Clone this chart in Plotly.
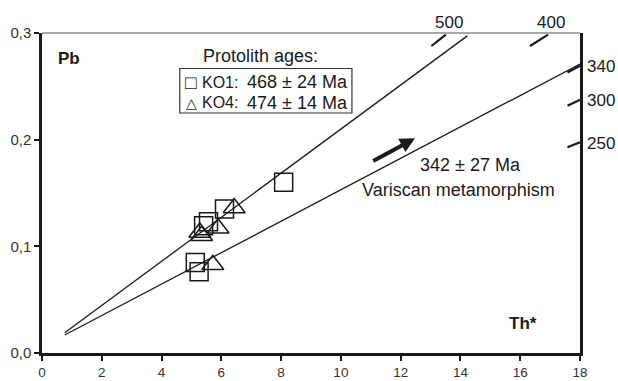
import numpy as np
import plotly.graph_objects as go

# ---------------- data ----------------
ko1_x = [8.085, 6.106, 5.571, 5.407, 5.129, 5.256]
ko1_y = [0.1601, 0.1350, 0.1231, 0.1192, 0.0848, 0.0762]

ko4_x = [6.43, 5.89, 5.28, 5.34, 5.715]
ko4_y = [0.136, 0.117, 0.113, 0.110, 0.0827]

iso_names = ["468 Ma isochron", "342 Ma isochron"]
iso_slope = [0.02066, 0.014736]
iso_intercept = [0.00331, 0.00566]
iso_x_start = [0.76, 0.76]
iso_x_end = [14.23, 18.0]

age_ticks_top = [500, 400]
age_ticks_right = [340, 300, 250]
LAMBDA_232 = 4.9475e-11   # 1/yr
K_SLOPE = 0.882

x_ticks = list(range(0, 19, 2))
x_labels = [str(v) for v in x_ticks]
y_ticks = [0.0, 0.1, 0.2, 0.3]
y_labels = ["0,0", "0,1", "0,2", "0,3"]

legend_rows = [("\u25a1", "KO1:", "468 \u00b1 24 Ma"), ("\u25b3", "KO4:", "474 \u00b1 14 Ma")]

FONT = "Liberation Sans, Arial, Helvetica, sans-serif"
INK = "#1a1a1a"


def age_slope(t_ma):
    return K_SLOPE * (np.exp(LAMBDA_232 * t_ma * 1e6) - 1.0)


fig = go.Figure()

# isochrons
for name, m, b, x0, x1 in zip(iso_names, iso_slope, iso_intercept, iso_x_start, iso_x_end):
    xs = [x0, x1]
    fig.add_trace(go.Scatter(x=xs, y=[b + m * v for v in xs], mode="lines",
                             line=dict(color=INK, width=1.3), name=name,
                             showlegend=False, hoverinfo="skip"))

# age reference ticks (segments of reference lines through the origin)
for t in age_ticks_top:
    m = age_slope(t)
    ys = [0.2878, 0.2985]
    fig.add_trace(go.Scatter(x=[v / m for v in ys], y=ys, mode="lines",
                             line=dict(color=INK, width=2.2), showlegend=False,
                             hoverinfo="skip"))
for t in age_ticks_right:
    m = age_slope(t)
    xs = [17.58, 18.0]
    fig.add_trace(go.Scatter(x=xs, y=[m * v for v in xs], mode="lines",
                             line=dict(color=INK, width=2.2), showlegend=False,
                             hoverinfo="skip"))

# data points
fig.add_trace(go.Scatter(x=ko1_x, y=ko1_y, mode="markers", name="KO1",
                         marker=dict(symbol="square-open", size=18, color=INK,
                                     line=dict(width=1.5, color=INK)),
                         showlegend=False))
fig.add_trace(go.Scatter(x=ko4_x, y=ko4_y, mode="markers", name="KO4",
                         marker=dict(symbol="triangle-up-open", size=19, color=INK,
                                     line=dict(width=1.5, color=INK)),
                         showlegend=False))

annotations = []
# age labels
for t in age_ticks_top:
    m = age_slope(t)
    annotations.append(dict(x=0.2985 / m, y=0.3, xref="x", yref="y", text=str(t),
                            showarrow=False, xanchor="center", yanchor="middle",
                            xshift=3, yshift=10.5, font=dict(size=17, color=INK, family=FONT)))
for t in age_ticks_right:
    m = age_slope(t)
    annotations.append(dict(x=18.0, y=m * 18.0, xref="x", yref="y", text=str(t),
                            showarrow=False, xanchor="left", yanchor="middle",
                            xshift=5, yshift=-1, font=dict(size=17, color=INK, family=FONT)))

# axis titles inside the frame
annotations.append(dict(x=0.894, y=0.2763, xref="x", yref="y", text="<b>Pb</b>", showarrow=False,
                        font=dict(size=17, color=INK, family=FONT)))
annotations.append(dict(x=16.08, y=0.0278, xref="x", yref="y", text="<b>Th*</b>", showarrow=False,
                        font=dict(size=17, color=INK, family=FONT)))

# legend-like box
annotations.append(dict(x=7.305, y=0.2787, xref="x", yref="y", text="Protolith ages:",
                        showarrow=False, font=dict(size=18, color=INK, family=FONT)))
row_y = [0.2536, 0.2344]
for (glyph, sample, age), yy in zip(legend_rows, row_y):
    annotations.append(dict(x=4.99, y=yy, xref="x", yref="y", text=glyph, showarrow=False,
                            xanchor="center", yanchor="middle",
                            font=dict(size=19 if glyph == "\u25a1" else 14, color=INK,
                                      family=FONT + ", DejaVu Sans")))
    annotations.append(dict(x=5.30, y=yy, xref="x", yref="y", text=sample, showarrow=False,
                            xanchor="left", yanchor="middle",
                            font=dict(size=16, color=INK, family=FONT)))
    annotations.append(dict(x=6.78, y=yy, xref="x", yref="y", text=age, showarrow=False,
                            xanchor="left", yanchor="middle",
                            font=dict(size=18, color=INK, family=FONT)))

# Variscan label and arrow
annotations.append(dict(x=14.32, y=0.1762, xref="x", yref="y", text="342 \u00b1 27 Ma",
                        showarrow=False, font=dict(size=18, color=INK, family=FONT)))
annotations.append(dict(x=13.95, y=0.1528, xref="x", yref="y", text="Variscan metamorphism",
                        showarrow=False, font=dict(size=18, color=INK, family=FONT)))
annotations.append(dict(x=12.48, y=0.2013, ax=11.03, ay=0.1793, xref="x", yref="y",
                        axref="x", ayref="y", text="", showarrow=True, arrowhead=2,
                        arrowsize=0.75, arrowwidth=4, arrowcolor=INK, standoff=0))

shapes = [
    dict(type="rect", xref="x", yref="y", x0=4.61, x1=10.37, y0=0.225, y1=0.2667,
         line=dict(color="#333333", width=1.2), fillcolor="rgba(0,0,0,0)", layer="above"),
    dict(type="line", xref="paper", yref="paper", x0=0, x1=1, y0=1, y1=1,
         line=dict(color="#555555", width=1.2)),
]

fig.update_layout(
    width=618, height=381,
    margin=dict(l=42, r=38, t=33, b=28, autoexpand=False),
    paper_bgcolor="white", plot_bgcolor="white",
    font=dict(family=FONT, color=INK),
    showlegend=False,
    annotations=annotations,
    shapes=shapes,
    xaxis=dict(range=[0, 18], tickvals=x_ticks, ticktext=x_labels, showgrid=False,
               zeroline=False, showline=True, linewidth=2.5, linecolor=INK,
               ticks="outside", ticklen=5, tickwidth=2, tickcolor=INK, automargin=False,
               ticklabelstandoff=0,
               tickfont=dict(size=13.5, color="#333333", family=FONT)),
    yaxis=dict(range=[0, 0.3], tickvals=y_ticks, ticktext=y_labels, showgrid=False,
               zeroline=False, showline=True, linewidth=2.5, linecolor=INK, mirror=True,
               ticks="outside", ticklen=5, tickwidth=2, tickcolor=INK, automargin=False,
               tickfont=dict(size=15, color="#333333", family=FONT)),
)

fig.write_html("out.html", config={"displayModeBar": False},
               post_script="document.body.style.margin='0';document.body.style.padding='0';")
